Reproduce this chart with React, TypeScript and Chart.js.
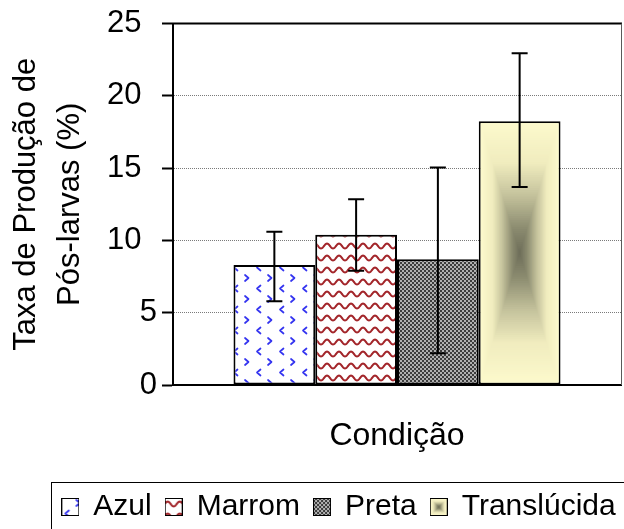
import React, { useEffect, useRef } from 'react';
import { Chart, registerables } from 'chart.js';

Chart.register(...registerables);

// ---------- data ----------
const categories = [''];
const seriesNames = ['Azul', 'Marrom', 'Preta', 'Translúcida'];
const seriesValues = [8.3, 10.4, 8.7, 18.25];
const errorHigh = [10.6, 12.85, 15.05, 22.95];
const errorLow = [5.8, 7.9, 2.2, 13.7];
const yTicks = [0, 5, 10, 15, 20, 25];
const xTitle = 'Condição';
const yTitle = ['Taxa de Produção de', 'Pós-larvas (%)'];

const FONT = "'Liberation Sans', Arial, Helvetica, sans-serif";
const W = 678;
const H = 532;
const PLOT_RIGHT = 621;

// ---------- fills ----------
function tile(w: number, h: number, draw: (g: CanvasRenderingContext2D) => void) {
  const c = document.createElement('canvas');
  c.width = w;
  c.height = h;
  draw(c.getContext('2d') as CanvasRenderingContext2D);
  return c;
}

const azulTile = () =>
  tile(23, 21, (g) => {
    g.fillStyle = '#fff';
    g.fillRect(0, 0, 23, 21);
    g.strokeStyle = '#3434f0';
    g.lineWidth = 1.7;
    g.lineCap = 'round';
    g.lineJoin = 'round';
    g.beginPath();
    g.moveTo(15, 2);
    g.lineTo(18.5, 5);
    g.lineTo(15, 8);
    g.stroke();
    g.beginPath();
    g.moveTo(7.5, 12.5);
    g.lineTo(4, 15.5);
    g.lineTo(7.5, 18.5);
    g.stroke();
  });

const marromTile = () =>
  tile(12, 12, (g) => {
    g.fillStyle = '#fff';
    g.fillRect(0, 0, 12, 12);
    g.strokeStyle = '#a3262b';
    g.lineWidth = 2;
    g.beginPath();
    for (let x = -1; x <= 13; x += 0.5) {
      const y = 6 - 2.4 * Math.sin((2 * Math.PI * x) / 12);
      if (x === -1) g.moveTo(x, y);
      else g.lineTo(x, y);
    }
    g.stroke();
  });

const pretaTile = () =>
  tile(4, 4, (g) => {
    g.fillStyle = '#3c3c3c';
    g.fillRect(0, 0, 4, 4);
    g.fillStyle = '#b0b0b0';
    g.fillRect(0, 0, 2, 2);
    g.fillRect(2, 2, 2, 2);
  });

const STOPS: [number, number[]][] = [
  [0, [252, 249, 204]],
  [0.3, [240, 236, 190]],
  [0.55, [196, 194, 156]],
  [0.8, [140, 140, 112]],
  [1, [108, 108, 88]],
];
function colorAt(t: number) {
  for (let i = 1; i < STOPS.length; i++) {
    const [t1, c1] = STOPS[i];
    const [t0, c0] = STOPS[i - 1];
    if (t <= t1) {
      const f = (t - t0) / (t1 - t0);
      const c = c0.map((v, k) => Math.round(v + (c1[k] - v) * f));
      return `rgb(${c[0]},${c[1]},${c[2]})`;
    }
  }
  const c = STOPS[STOPS.length - 1][1];
  return `rgb(${c[0]},${c[1]},${c[2]})`;
}
function boxGradient(g: CanvasRenderingContext2D, x0: number, y0: number, w: number, h: number) {
  const cx = x0 + w / 2;
  const cy = y0 + h / 2;
  const N = 60;
  for (let i = 0; i < N; i++) {
    const t = i / N;
    const hw = (w / 2) * (1 - t);
    const hh = (h / 2) * (1 - t);
    g.fillStyle = colorAt(t);
    g.fillRect(cx - hw, cy - hh, 2 * hw, 2 * hh);
  }
}

function makeIcon(fill: CanvasPattern | null, gradient: boolean) {
  return tile(18, 18, (g) => {
    if (gradient) {
      boxGradient(g, 1, 1, 16, 16);
    } else if (fill) {
      g.fillStyle = fill;
      g.fillRect(1, 1, 16, 16);
    }
    g.strokeStyle = '#000';
    g.lineWidth = 1;
    g.strokeRect(0.5, 0.5, 17, 17);
  });
}

export default function App() {
  const ref = useRef<HTMLCanvasElement>(null);

  useEffect(() => {
    const canvas = ref.current as HTMLCanvasElement;
    const ctx = canvas.getContext('2d') as CanvasRenderingContext2D;
    const tiles = [azulTile(), marromTile(), pretaTile()];
    const patterns = tiles.map((t) => ctx.createPattern(t, 'repeat') as CanvasPattern);
    const fills: (CanvasPattern | string)[] = [patterns[0], patterns[1], patterns[2], '#fcf9cc'];
    const icons = [
      makeIcon(tiles[0].getContext('2d')!.createPattern(tiles[0], 'repeat'), false),
      makeIcon(tiles[1].getContext('2d')!.createPattern(tiles[1], 'repeat'), false),
      makeIcon(tiles[2].getContext('2d')!.createPattern(tiles[2], 'repeat'), false),
      makeIcon(null, true),
    ];

    const decor = {
      id: 'decor',
      afterDatasetsDraw(chart: any) {
        const g = chart.ctx as CanvasRenderingContext2D;
        const yScale = chart.scales.y;
        // rectangular "from centre" gradient of the translucent bar
        const meta3 = chart.getDatasetMeta(3);
        const el3 = meta3.data[0];
        if (el3) {
          const p = el3.getProps(['x', 'y', 'base', 'width'], true);
          const bw = 2;
          const left = p.x - p.width / 2 + bw;
          const top = Math.min(p.y, p.base) + bw;
          const w = p.width - 2 * bw;
          const h = Math.abs(p.base - p.y) - 2 * bw;
          g.save();
          boxGradient(g, left, top, w, h);
          g.restore();
        }
        // error bars
        g.save();
        g.strokeStyle = '#000';
        g.lineWidth = 2;
        seriesNames.forEach((_, i) => {
          const el = chart.getDatasetMeta(i).data[0];
          if (!el) return;
          const x = el.getProps(['x'], true).x;
          const yh = yScale.getPixelForValue(errorHigh[i]);
          const yl = yScale.getPixelForValue(errorLow[i]);
          g.beginPath();
          g.moveTo(x, yh);
          g.lineTo(x, yl);
          g.moveTo(x - 8, yh);
          g.lineTo(x + 8, yh);
          g.moveTo(x - 8, yl);
          g.lineTo(x + 8, yl);
          g.stroke();
        });
        g.restore();
      },
      afterDraw(chart: any) {
        const g = chart.ctx as CanvasRenderingContext2D;
        const a = chart.chartArea;
        g.save();
        g.strokeStyle = '#000';
        g.lineWidth = 2;
        g.beginPath();
        g.moveTo(a.left - 1, a.top);
        g.lineTo(a.right + 1, a.top);
        g.stroke();
        g.strokeStyle = '#5a5a5a';
        g.lineWidth = 1;
        g.beginPath();
        g.moveTo(Math.round(a.right) + 0.5, a.top);
        g.lineTo(Math.round(a.right) + 0.5, a.bottom);
        g.stroke();
        // legend frame
        const lg = chart.legend;
        if (lg && lg.legendHitBoxes && lg.legendHitBoxes.length) {
          const hb = lg.legendHitBoxes[0];
          const lx = Math.round(hb.left - 11) + 0.5;
          const ly = Math.round(lg.top + 4) + 0.5;
          g.strokeStyle = '#000';
          g.lineWidth = 1;
          g.strokeRect(lx, ly, W, 200);
        }
        g.restore();
      },
    };

    const chart = new Chart(canvas, {
      type: 'bar',
      data: {
        labels: categories,
        datasets: seriesNames.map((name, i) => ({
          label: name,
          data: [seriesValues[i]],
          backgroundColor: fills[i] as any,
          borderColor: '#000',
          borderWidth: 2,
          borderSkipped: false,
          barPercentage: 1,
          categoryPercentage: 0.73,
        })),
      },
      options: {
        responsive: false,
        maintainAspectRatio: false,
        animation: false,
        devicePixelRatio: 1,
        layout: { padding: { top: 23, left: 0, right: 0, bottom: 0 } },
        plugins: {
          tooltip: { enabled: false },
          title: { display: false },
          legend: {
            display: true,
            position: 'bottom',
            align: 'center',
            labels: {
              usePointStyle: true,
              boxWidth: 16,
              boxHeight: 18,
              padding: 14,
              color: '#000',
              font: { family: FONT, size: 30 },
              generateLabels: () =>
                seriesNames.map((n, i) => ({
                  text: n,
                  pointStyle: icons[i] as any,
                  fillStyle: '#fff',
                  strokeStyle: '#000',
                  fontColor: '#000',
                  lineWidth: 0,
                  hidden: false,
                  datasetIndex: i,
                })),
            },
          },
        },
        scales: {
          x: {
            type: 'category',
            grid: { display: false },
            border: { display: true, color: '#000', width: 2 },
            ticks: { display: false },
            title: {
              display: true,
              text: xTitle,
              color: '#000',
              font: { family: FONT, size: 32 },
              padding: { top: 0, bottom: 23 },
            },
            afterFit: (s: any) => {
              s.height = 93;
            },
          },
          y: {
            type: 'linear',
            position: 'left',
            min: 0,
            max: 25,
            afterBuildTicks: (s: any) => {
              s.ticks = yTicks.map((v) => ({ value: v }));
            },
            ticks: {
              color: '#000',
              padding: 5,
              font: { family: FONT, size: 31 },
              callback: (v: any) => (Number(v) >= 10 ? `${v}\u2002` : `${v}`),
            },
            grid: {
              color: '#7a7a7a',
              lineWidth: 1,
              drawTicks: true,
              tickLength: 11,
              tickColor: '#000',
              tickWidth: 2,
              tickBorderDash: [],
            },
            border: { display: true, color: '#000', width: 2, dash: [1, 1] },
            title: {
              display: true,
              text: yTitle,
              color: '#000',
              font: { family: FONT, size: 31, lineHeight: 1.42 },
              padding: { top: 4, bottom: 0 },
            },
            afterFit: (s: any) => {
              s.width = 173;
            },
          },
          yRight: {
            type: 'linear',
            position: 'right',
            display: true,
            grid: { display: false, drawOnChartArea: false },
            ticks: { display: false },
            border: { display: false },
            afterFit: (s: any) => {
              s.width = W - PLOT_RIGHT;
            },
          },
        },
      },
      plugins: [decor],
    });

    return () => chart.destroy();
  }, []);

  return (
    <div
      style={{
        position: 'fixed',
        left: 0,
        top: 0,
        width: 624,
        height: 529,
        overflow: 'hidden',
        background: '#fff',
      }}
    >
      <canvas ref={ref} width={W} height={H} style={{ display: 'block', width: W, height: H }} />
    </div>
  );
}
